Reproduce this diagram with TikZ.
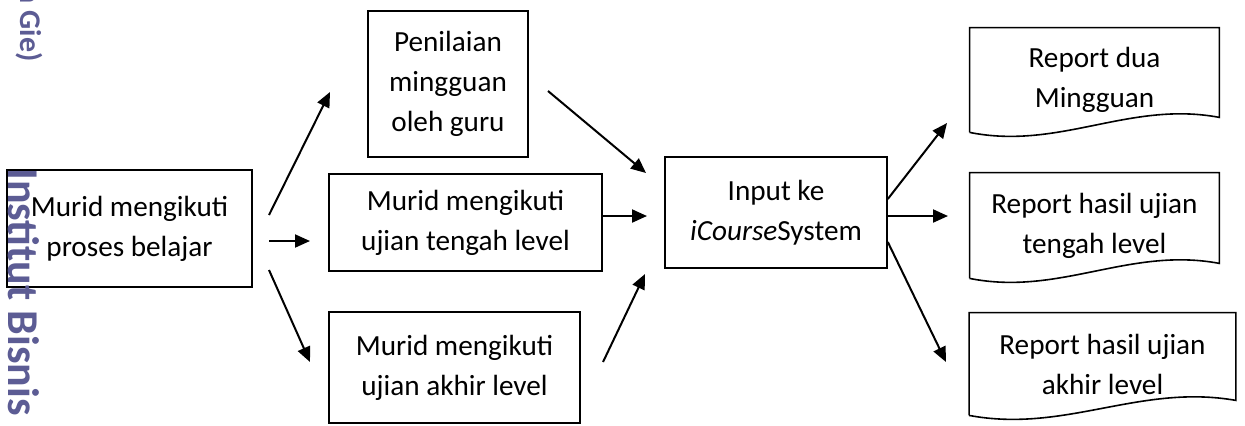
\documentclass[tikz,border=0pt]{standalone}
\usepackage{fontspec}
\setmainfont{Carlito}
\usetikzlibrary{arrows.meta,calc}
\definecolor{WatermarkBlue}{RGB}{92,92,148}
\tikzset{
  flow/.style={-{Triangle[length=7.5pt,width=6.5pt]},line width=1pt,draw=black},
  box/.style={draw=black,line width=0.8pt,inner sep=0pt,align=center,
    font=\fontsize{14.6}{20}\selectfont},
  docbox/.style={inner sep=0pt,align=center,font=\fontsize{14.6}{20}\selectfont},
  docline/.style={draw=black,line width=0.8pt},
  wmark/.style={text=WatermarkBlue,rotate=-90,inner sep=0pt}
}

\begin{document}
\begin{tikzpicture}[x=0.5pt,y=-0.5pt]
  \useasboundingbox (0,0) rectangle (1245,425);
  \node[box,minimum width=122.5pt,minimum height=58.5pt] (belajar) at (129.5,228.5) {Murid mengikuti\\proses belajar};
  \node[box,minimum width=80pt,minimum height=73pt] (penilaian) at (448,84) {Penilaian\\mingguan\\oleh guru};
  \node[box,minimum width=136.5pt,minimum height=48.5pt] (ujiantengah) at (465.5,222.5) {Murid mengikuti\\ujian tengah level};
  \node[box,minimum width=125.5pt,minimum height=55.5pt] (ujianakhir) at (454.5,367.5) {Murid mengikuti\\ujian akhir level};
  \node[box,minimum width=111pt,minimum height=55.5pt] (inputsys) at (776,212.5) {Input ke\\\textit{iCourse}System};
  \node[docbox,minimum width=124.5pt,minimum height=52pt] (repdua) at (1094.5,80) {Report dua\\Mingguan};
  \node[docbox,minimum width=124.5pt,minimum height=52.5pt] (rephasiltengah) at (1094.5,225.5) {Report hasil ujian\\tengah level};
  \node[docbox,minimum width=133pt,minimum height=51pt] (rephasilakhir) at (1102.5,364) {Report hasil ujian\\akhir level};
  \foreach \d in {repdua,rephasiltengah,rephasilakhir}
    \draw[docline] (\d.south west) |- (\d.north east) -- ([yshift=7.5pt]\d.south east)
      .. controls ($(\d.south west)!0.64!(\d.south east)+(0,-32)$) and ($(\d.south west)!0.36!(\d.south east)+(0,18)$) .. (\d.south west);

  \coordinate (a1s) at (269,215);  \coordinate (a1e) at (330,92);
  \coordinate (a2s) at (269,241);  \coordinate (a2e) at (310,241);
  \coordinate (a3s) at (269,270);  \coordinate (a3e) at (310,362);
  \coordinate (b1s) at (548,91);   \coordinate (b1e) at (646,173);
  \coordinate (b2e) at (647,216);
  \coordinate (b3s) at (603,362);  \coordinate (b3e) at (645,274);
  \coordinate (c1e) at (947,123);
  \coordinate (c2e) at (948,216);
  \coordinate (c3e) at (946,362);
  \draw[flow] (a1s) -- (a1e);
  \draw[flow] (a2s) -- (a2e);
  \draw[flow] (a3s) -- (a3e);
  \draw[flow] (b1s) -- (b1e);
  \draw[flow] (ujiantengah.east |- b2e) -- (b2e);
  \draw[flow] (b3s) -- (b3e);
  \draw[flow] ([yshift=6.75pt]inputsys.east) -- (c1e);
  \draw[flow] (inputsys.east |- c2e) -- (c2e);
  \draw[flow] ([yshift=-14.75pt]inputsys.east) -- (c3e);

  \node[wmark,font=\bfseries\fontsize{22}{22}\selectfont,anchor=base west] (wminstitut) at (9,168) {Institut Bisnis};
  \node[wmark,font=\bfseries\fontsize{15}{15}\selectfont,anchor=base east] (wmgie) at (20,62) {n Gie)};
\end{tikzpicture}
\end{document}
